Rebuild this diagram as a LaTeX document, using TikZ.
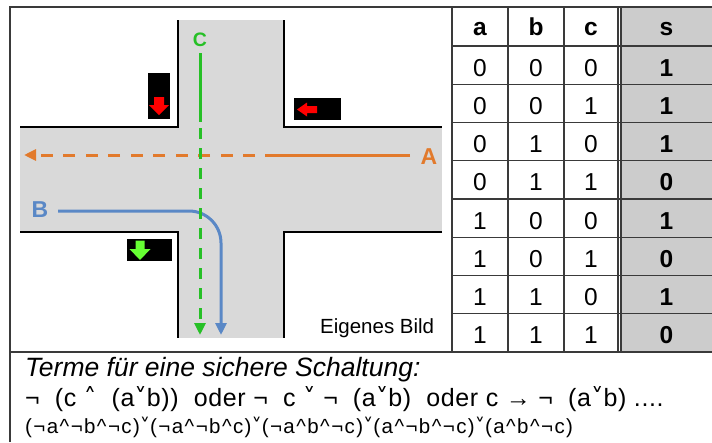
\documentclass[tikz,border=0pt]{standalone}
\usepackage{fontspec}
\setmainfont{Liberation Sans}
\newfontfamily\dvfont{DejaVu Sans}
\usetikzlibrary{arrows.meta}
\definecolor{roadgray}{HTML}{D9D9D9}
\definecolor{orangeA}{HTML}{E27A2C}
\definecolor{greenC}{HTML}{26C026}
\definecolor{blueB}{HTML}{5A88C6}
\definecolor{sgray}{HTML}{CCCCCC}
\definecolor{framecol}{HTML}{3A3A3A}
\definecolor{lightgreen}{HTML}{66FF33}
\newcommand\myor{{\dvfont ˅}}
\newcommand\myand{{\dvfont ˄}}
\tikzset{
  curb/.style={draw=black, line width=1.2pt},
  route/.style={line width=3pt},
  tip/.style={-{Triangle[length=12pt,width=11pt]}},
  framel/.style={draw=framecol, line width=1.3pt},
  cell/.style={font=\fontsize{24.5}{28}\selectfont, inner sep=0pt, anchor=base},
  hcell/.style={cell, font=\fontsize{24.5}{28}\selectfont\bfseries},
  lbl/.style={font=\fontsize{23}{27}\selectfont\bfseries, inner sep=0pt},
  txt/.style={inner sep=0pt, anchor=base west},
}
\begin{document}
\begin{tikzpicture}[x=1pt,y=-1pt]
\useasboundingbox (0,0) rectangle (712,442);
\fill[white] (0,0) rectangle (712,442);
% roads
\fill[roadgray] (178,20) rectangle (284,338);
\fill[roadgray] (20,127) rectangle (442,232);
\draw[curb] (178,20) -- (178,127) -- (20,127);
\draw[curb] (284,20) -- (284,127) -- (442,127);
\draw[curb] (20,232) -- (178,232) -- (178,338);
\draw[curb] (442,232) -- (284,232) -- (284,338);
% traffic lights
\fill[black] (148,73) rectangle (170,119);
\fill[red] (154,97) -- (164,97) -- (164,105) -- (169,105) -- (159,115) -- (149,105) -- (154,105) -- cycle;
\fill[black] (294,98) rectangle (341,120);
\fill[red] (297,109.5) -- (307,102.5) -- (307,106) -- (317,106) -- (317,113) -- (307,113) -- (307,116.5) -- cycle;
\fill[black] (127,239) rectangle (172,261);
\fill[lightgreen] (135.5,240.5) -- (144.5,240.5) -- (144.5,249) -- (150.5,249) -- (140,260) -- (129.5,249) -- (135.5,249) -- cycle;
% labels
\node[lbl, text=orangeA] (A) at (429,157) {A};
\node[lbl, text=blueB] (B) at (40,210) {B};
\node[lbl, text=greenC, font=\fontsize{19.5}{23}\selectfont\bfseries] (C) at (200,40) {C};
% route coordinates
\coordinate (astart) at (410,155);
\coordinate (asolid) at (265,155);
\coordinate (adash) at (255,155);
\coordinate (aend) at (24,155);
\coordinate (bstart) at (58,211);
\coordinate (bturn) at (221,211);
\coordinate (bend) at (221,335);
\coordinate (cstart) at (200,53);
\coordinate (csolid) at (200,122);
\coordinate (cdash) at (200,128);
\coordinate (cend) at (200,335);
% route A
\draw[route, orangeA] (astart) -- (asolid);
\draw[route, orangeA, tip, dash pattern=on 11.7pt off 10.8pt] (adash) -- (aend);
% route B
\draw[route, blueB, tip, rounded corners=32pt] (bstart) -- (bturn) -- (bend);
% route C
\draw[route, greenC] (cstart) -- (csolid);
\draw[route, greenC, tip, dash pattern=on 11pt off 9pt] (cdash) -- (cend);
\node[txt, font=\fontsize{20.5}{24}\selectfont] (bild) at (320,333) {Eigenes Bild};
% table shading
\fill[sgray] (621,7) rectangle (712,352);
% frame and table lines
\draw[framel] (10,442) -- (10,7) -- (712,7);
\draw[framel] (10,352) -- (712,352);
\foreach \xx in {452,508,564,618,621} \draw[framel] (\xx,7) -- (\xx,352);
\foreach \k in {0,...,7} \draw[framel] (452,46+38.25*\k) -- (712,46+38.25*\k);
% header
\node[hcell] (ha) at (480,35) {a};
\node[hcell] (hb) at (536,35) {b};
\node[hcell] (hc) at (591,35) {c};
\node[hcell] (hs) at (666.5,35) {s};
\foreach \va/\vb/\vc/\vs [count=\i] in {0/0/0/1,0/0/1/1,0/1/0/1,0/1/1/0,1/0/0/1,1/0/1/0,1/1/0/1,1/1/1/0} {
  \pgfmathsetmacro\yy{46+38.25*(\i-0.5)+11}
  \node[cell] (a\i) at (480,\yy) {\va};
  \node[cell] (b\i) at (536,\yy) {\vb};
  \node[cell] (c\i) at (591,\yy) {\vc};
  \node[hcell] (s\i) at (666.5,\yy) {\vs};
}
% bottom text
\node[txt, font=\fontsize{26.5}{30}\selectfont\itshape] (t1) at (25,376) {Terme für eine sichere Schaltung:};
\node[txt, font=\fontsize{25}{29}\selectfont\addfontfeatures{LetterSpace=2.5}] (t2) at (25,406) {¬\ \ (c \myand\ \ (a\myor b))\ \ oder ¬\ \ c \myor\ ¬\ \ (a\myor b)\ \ oder c → ¬\ \ (a\myor b) ....};
\node[txt, font=\fontsize{20.5}{24}\selectfont\addfontfeatures{LetterSpace=7}] (t3) at (25,433) {(¬a\^{}¬b\^{}¬c)\myor(¬a\^{}¬b\^{}c)\myor(¬a\^{}b\^{}¬c)\myor(a\^{}¬b\^{}¬c)\myor(a\^{}b\^{}¬c)};
\end{tikzpicture}
\end{document}
